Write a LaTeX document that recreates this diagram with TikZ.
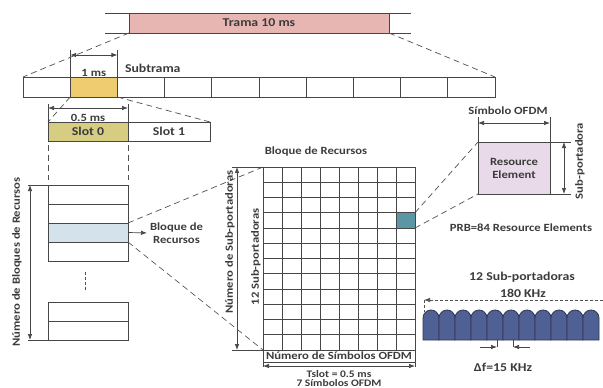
\documentclass[tikz,border=0pt]{standalone}
\usepackage{fontspec}
\setmainfont[FakeStretch=1.15]{Carlito}
\usetikzlibrary{arrows.meta}
\begin{document}
\begin{tikzpicture}[x=1pt,y=-1pt,
  every node/.style={font=\bfseries\fontsize{11}{13}\selectfont, text={rgb,255:red,60;green,60;blue,60}, inner sep=0pt, outer sep=0pt},
  bigtext/.style={font=\bfseries\fontsize{12}{14}\selectfont},
  smalltext/.style={font=\bfseries\fontsize{10}{12}\selectfont},
  cell/.style={draw={rgb,255:red,70;green,70;blue,70}, line width=0.9pt},
  subbox/.style={cell, minimum width=47.2, minimum height=20},
  rbbox/.style={cell, minimum width=80, minimum height=19},
  gridline/.style={draw={rgb,255:red,70;green,70;blue,70}, line width=0.7pt},
  dashline/.style={draw={rgb,255:red,80;green,80;blue,80}, line width=0.7pt, dash pattern=on 6pt off 4pt},
  dimline/.style={draw={rgb,255:red,70;green,70;blue,70}, line width=0.7pt},
  dimarrow/.style={dimline, {Latex[length=6pt,width=4.5pt]}-{Latex[length=6pt,width=4.5pt]}},
  onearrow/.style={dimline, -{Latex[length=6pt,width=4.5pt]}},
  hump/.style={draw={rgb,255:red,50;green,55;blue,80}, line width=0.8pt, fill={rgb,255:red,78;green,96;blue,148}}]
\useasboundingbox (0,0) rectangle (603,388);
\draw[dimline, line width=0.5pt] (105,13) -- (411,13) (105,33) -- (411,33);
\node[cell, fill={rgb,255:red,232;green,182;blue,178}, minimum width=260, minimum height=20, bigtext] (trama) at (259,23) {Trama 10 ms};
\foreach \i in {0,2,3,4,5,6,7,8,9}
  \node[subbox] (sf\i) at (46.6+47.2*\i,87) {};
\node[subbox, fill={rgb,255:red,240;green,204;blue,112}] (sf1) at (93.8,87) {};
\draw[dashline] (trama.south west) -- (sf0.north west);
\draw[dashline] (trama.south east) -- (sf9.north east);
\draw[dimline] (sf1.north west) -- ++(0,-27) (sf1.north east) -- ++(0,-27);
\draw[dimarrow] ([yshift=22]sf1.north west) -- ([yshift=22]sf1.north east);
\node[anchor=base] (onems) at (93.8,76) {1 ms};
\node[anchor=west, bigtext] (subtrama) at (125,68) {Subtrama};

\node[cell, fill={rgb,255:red,214;green,204;blue,130}, minimum width=80, minimum height=19, bigtext] (slot0) at (88,131.5) {Slot 0};
\node[cell, minimum width=82, minimum height=19, anchor=west, bigtext] (slot1) at (slot0.east) {Slot 1};
\draw[dashline] (sf1.south west) -- (slot0.north west);
\draw[dashline] (sf1.south east) -- (slot1.north east);
\draw[dimline] (slot0.north west) -- ++(0,-18) (slot0.north east) -- ++(0,-18);
\draw[dimarrow] ([yshift=14]slot0.north west) -- ([yshift=14]slot0.north east);
\node[anchor=base] (halfms) at (88,121) {0.5 ms};

\foreach \i/\y in {0/194.5,1/213.5,3/251.5,4/311.5,5/330.5}
  \node[rbbox] (rb\i) at (88,\y) {};
\node[rbbox, fill={rgb,255:red,212;green,226;blue,236}] (rb2) at (88,232.5) {};
\draw[dashline] ([yshift=-4]slot0.south west) -- ([yshift=5]rb0.north west);
\draw[dashline] ([yshift=-4]slot0.south east) -- ([yshift=5]rb0.north east);
\draw[dashline, dash pattern=on 3pt off 2pt] ([xshift=-3,yshift=-11]rb3.south) -- ([xshift=-3,yshift=10]rb4.north);
\draw[dimline] (rb0.north west) -- ++(-20,0) (rb5.south west) -- ++(-20,0);
\draw[dimarrow] ([xshift=-18]rb0.north west) -- ([xshift=-18]rb5.south west);
\node[rotate=90] (nbloques) at (17,262) {Número de Bloques de Recursos};
\node[anchor=west, align=center] (rblabel) at (150,233) {Bloque de\\Recursos};
\draw[onearrow, shorten >=3pt] (rb2.east) -- (rblabel.west);

\node[gridline, minimum width=152, minimum height=183] (grid) at (339,258.5) {};
\foreach \i in {1,...,7}
  \draw[gridline] ([xshift=19*\i]grid.north west) -- ([xshift=19*\i]grid.south west);
\foreach \j in {1,...,11}
  \draw[gridline] ([yshift=-15.25*\j]grid.north west) -- ([yshift=-15.25*\j]grid.north east);
\node[gridline, fill={rgb,255:red,92;green,150;blue,164}, minimum width=19, minimum height=15.25, anchor=north east] (recell) at ([yshift=-45.75]grid.north east) {};
\draw[dashline] (rb2.north east) -- (grid.north west);
\draw[dashline] (rb2.south east) -- (grid.south west);
\node (gridtitle) at (316,152) {Bloque de Recursos};
\draw[dimline] (grid.north west) -- ++(-31,0) (grid.south west) -- ++(-31,0);
\draw[dimarrow] ([xshift=-26]grid.north west) -- ([xshift=-26]grid.south west);
\node[rotate=90] (nsub) at (230,242) {Número de Sub-portadoras};
\node[rotate=90] (twelvesub) at (256,257) {12 Sub-portadoras};
\node[gridline, minimum width=152, minimum height=12, anchor=north] (nsym) at (grid.south) {Número de Símbolos OFDM};
\draw[dimline] (nsym.south west) -- ++(0,5) (nsym.south east) -- ++(0,5);
\draw[dimarrow] ([yshift=-4]nsym.south west) -- ([yshift=-4]nsym.south east);
\node[smalltext] (tslot) at (339,374) {Tslot = 0.5 ms};
\node[smalltext] (nsymb) at (339,383) {7 Símbolos OFDM};

\node[cell, fill={rgb,255:red,232;green,218;blue,232}, minimum width=72, minimum height=52, align=center] (rebox) at (514,168) {Resource\\Element};
\draw[dashline] (recell.north east) -- (rebox.north west);
\draw[dashline] (recell.south east) -- (rebox.south west);
\draw[dimline] (rebox.north west) -- ++(0,-25) (rebox.north east) -- ++(0,-25);
\draw[dimarrow] ([yshift=19]rebox.north west) -- ([yshift=19]rebox.north east);
\node (resym) at (508,111) {Símbolo OFDM};
\draw[dimline] (rebox.north east) -- ++(21,0) (rebox.south east) -- ++(21,0);
\draw[dimarrow] ([xshift=14]rebox.north east) -- ([xshift=14]rebox.south east);
\node[rotate=90] (resub) at (580,161) {Sub-portadora};
\node (prb) at (521,228) {PRB=84 Resource Elements};

\node[bigtext] (twelvesc) at (522,277) {12 Sub-portadoras};
\node[bigtext] (bw) at (523,293) {180 KHz};
\coordinate (bwl) at (424,300);
\coordinate (bwr) at (603,300);
\draw[dashline, dash pattern=on 3pt off 2pt, -{Latex[length=6pt,width=4.5pt]}] (bwr) -- (bwl);
\draw[dashline, dash pattern=on 3pt off 2pt] (bwl) -- ++(0,12);
\foreach \k in {0,...,10}
  \draw[hump] (423+16*\k,340) -- ++(0,-22) arc[start angle=180, end angle=0, radius=8pt] -- ++(0,22) -- cycle;
\coordinate (dfl) at (497,347);
\coordinate (dfr) at (513,347);
\draw[dimline] (dfl) -- ++(0,-7) (dfr) -- ++(0,-7);
\draw[onearrow] ([xshift=-17]dfl) -- (dfl);
\draw[onearrow] ([xshift=17]dfr) -- (dfr);
\node[bigtext] (df) at (503,367) {Δf=15 KHz};
\end{tikzpicture}
\end{document}
